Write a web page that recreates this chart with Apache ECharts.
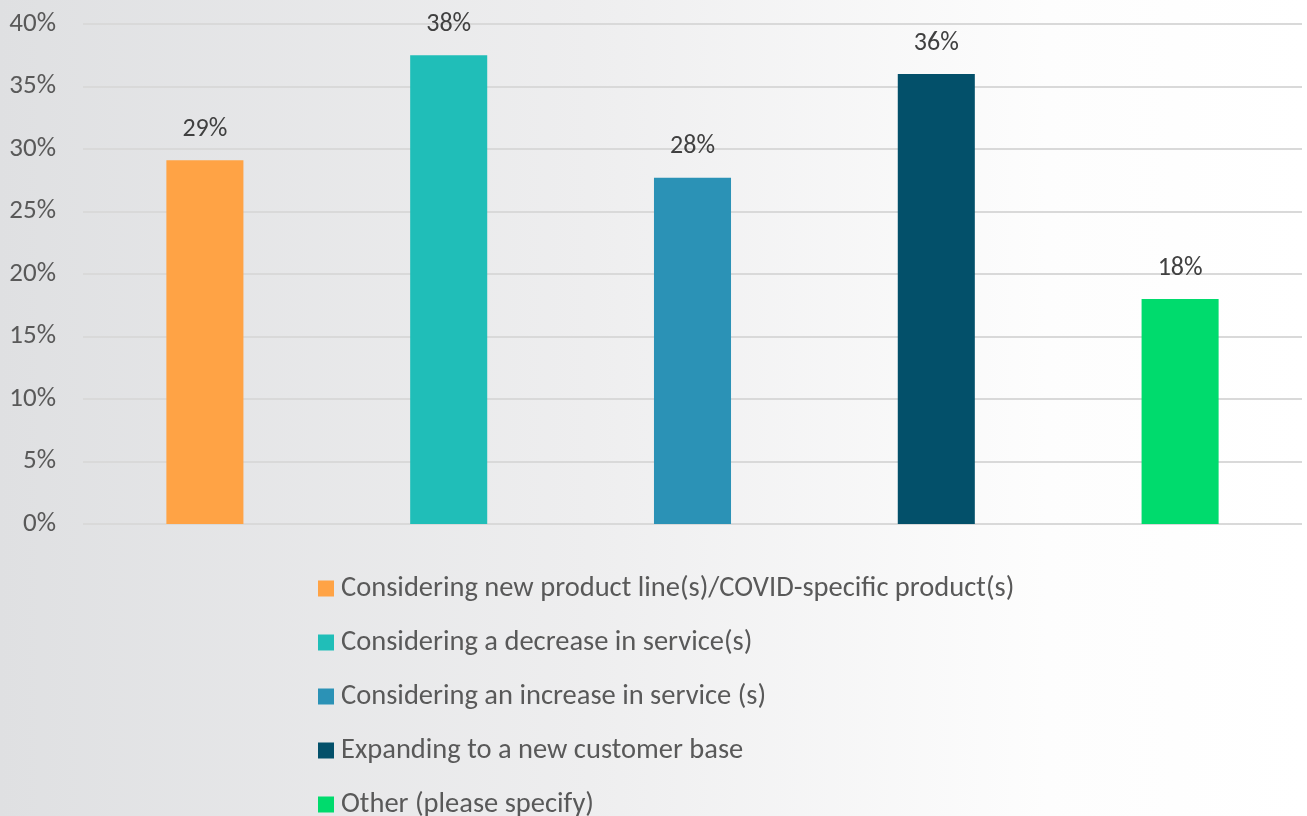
<!DOCTYPE html>
<html>
<head>
<meta charset="utf-8">
<script src="https://cdn.jsdelivr.net/npm/echarts@6/dist/echarts.min.js"></script>
<style>
  html, body { margin: 0; padding: 0; }
  #chart { width: 1307px; height: 816px; }
</style>
</head>
<body>
<div id="chart"></div>
<script>
// Survey responses: share of businesses per planned change
const categories = [
  'Considering new product line(s)/COVID-specific product(s)',
  'Considering a decrease in service(s)',
  'Considering an increase in service (s)',
  'Expanding to a new customer base',
  'Other (please specify)'
];
const values = [0.291, 0.375, 0.277, 0.36, 0.18];
const colors = ['#FFA345', '#20BEB8', '#2B92B6', '#03506A', '#00DB6D'];
const yTicks = { min: 0, max: 0.4, interval: 0.05 };

const fontFamily = "Carlito, Lato, 'Open Sans', sans-serif";

// One series per category so each gets its own legend entry; stacking keeps
// every bar centred in its band.
const series = categories.map((name, i) => ({
  name,
  type: 'bar',
  stack: 'all',
  barWidth: '31.6%',
  itemStyle: { color: colors[i] },
  data: categories.map((_, j) => (j === i ? values[i] : '-')),
  label: {
    show: true,
    position: 'top',
    distance: 18,
    color: '#404040',
    fontSize: 26,
    fontFamily,
    formatter: p => Math.round(p.value * 100) + '%'
  }
}));

// Legend rows stacked downwards, one component per entry so the list never wraps
const legendRowStart = 574;
const legendRowStep = 54;
const legends = categories.map((name, i) => ({
  orient: 'vertical',
  left: 318,
  top: legendRowStart + legendRowStep * i,
  padding: 0,
  itemWidth: 16,
  itemHeight: 16,
  icon: 'rect',
  data: [name],
  textStyle: {
    color: '#595959',
    fontSize: 28.5,
    fontFamily,
    padding: [0, 0, 0, 2]
  }
}));

const chart = echarts.init(document.getElementById('chart'));
chart.setOption({
  animation: false,
  backgroundColor: new echarts.graphic.LinearGradient(0, 0, 1, 0, [
    { offset: 0, color: '#dfe0e2' },
    { offset: 0.45, color: '#eeeeef' },
    { offset: 0.8, color: '#fdfdfd' },
    { offset: 1, color: '#ffffff' }
  ]),
  grid: { left: 83, right: 5, top: 24, bottom: 292, containLabel: false },
  xAxis: {
    type: 'category',
    data: categories,
    axisLine: { show: false },
    axisTick: { show: false },
    axisLabel: { show: false }
  },
  yAxis: {
    type: 'value',
    min: yTicks.min,
    max: yTicks.max,
    interval: yTicks.interval,
    axisLine: { show: false },
    axisTick: { show: false },
    splitLine: { lineStyle: { color: '#d9d9d9', width: 2 } },
    axisLabel: {
      color: '#595959',
      fontSize: 27,
      fontFamily,
      margin: 27,
      formatter: v => Math.round(v * 100) + '%'
    }
  },
  legend: legends,
  series
});
</script>
</body>
</html>
